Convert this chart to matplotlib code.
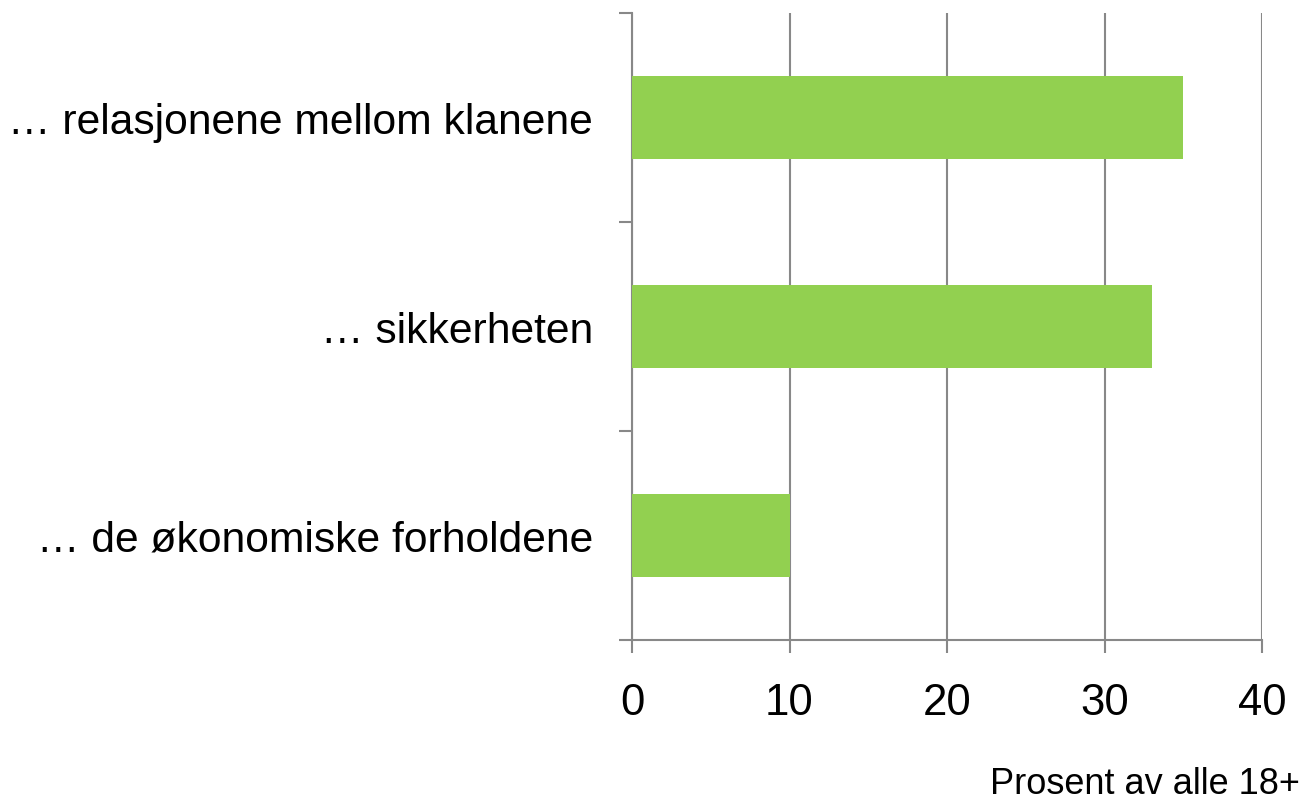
import numpy as np
import matplotlib.pyplot as plt

plt.rcParams['font.family'] = ['Liberation Sans', 'DejaVu Sans']

# data
categories = ['… relasjonene mellom klanene', '… sikkerheten', '… de økonomiske forholdene']
values = [35, 33, 10]
xticks = [0, 10, 20, 30, 40]

fig = plt.figure(figsize=(13.08, 8.04), dpi=100)
ax = fig.add_axes([632/1308, 1-641/804, (1262-632)/1308, (641-14)/804])

ypos = np.arange(len(categories))
ax.barh(ypos, values, height=0.4, color='#92D050', zorder=3)

ax.set_xlim(0, 40)
ax.set_ylim(len(categories)-0.5, -0.5)
ax.set_xticks(xticks)
ax.set_yticks(ypos)
ax.set_yticklabels(categories)
ax.set_yticks(np.arange(-0.5, len(categories), 1), minor=True)

grey = '#888888'
ax.grid(axis='x', color=grey, linewidth=1.5, zorder=0)
for s in ['top', 'right']:
    ax.spines[s].set_visible(False)
for s in ['left', 'bottom']:
    ax.spines[s].set_color(grey)
    ax.spines[s].set_linewidth(1.5)

ax.tick_params(axis='y', which='major', length=0, pad=28, labelsize=30.7)
ax.tick_params(axis='y', which='minor', length=9.5, width=1.5, color=grey)
ax.tick_params(axis='x', length=9, width=1.5, color=grey, pad=21, labelsize=31.5)

fig.text(0.994, 0.012, 'Prosent av alle 18+', ha='right', va='baseline', fontsize=26)

plt.savefig('out.png')
plt.close()
